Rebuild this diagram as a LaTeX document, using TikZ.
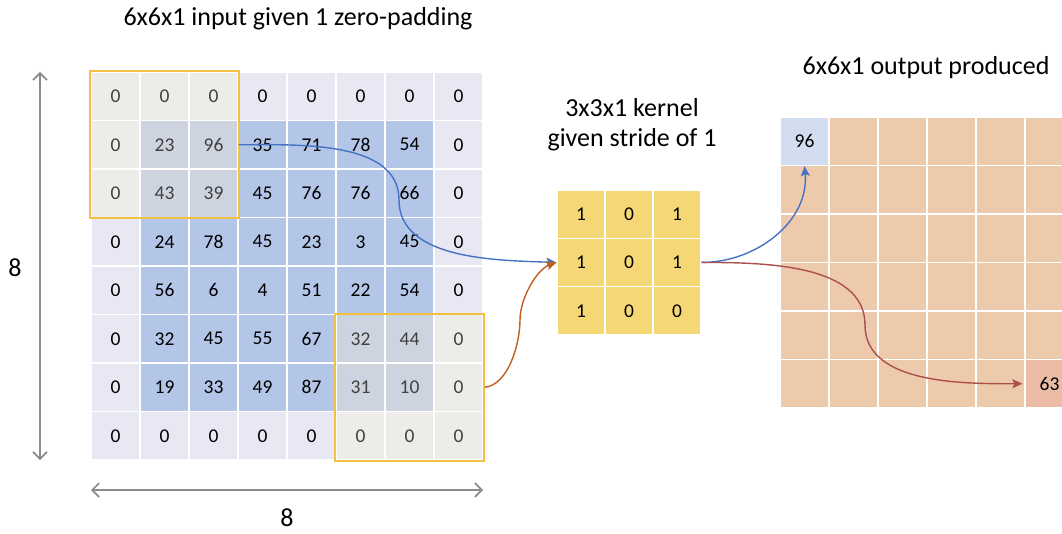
\documentclass[tikz,border=0pt]{standalone}
\usepackage{fontspec}
\setmainfont{Carlito}
\usetikzlibrary{positioning, fit, calc, arrows.meta}
\definecolor{padfill}{HTML}{E8E8F4}
\definecolor{infill}{HTML}{B4C6E7}
\definecolor{hipad}{HTML}{EDECE8}
\definecolor{hiin}{HTML}{CDD4DF}
\definecolor{kernfill}{HTML}{F5D776}
\definecolor{outfill}{HTML}{EECAAD}
\definecolor{firstout}{HTML}{D2DEF0}
\definecolor{lastout}{HTML}{EBBBA6}
\definecolor{hiline}{HTML}{F3C142}
\definecolor{bluearr}{HTML}{4472C4}
\definecolor{orangearr}{HTML}{C0601E}
\definecolor{redarr}{HTML}{A9504C}
\definecolor{dimgrey}{HTML}{8C8C8C}

\tikzset{
	incell/00/.style={fill=infill, text=black},
	incell/10/.style={fill=padfill, text=black},
	incell/01/.style={fill=hiin, text=black!75},
	incell/11/.style={fill=hipad, text=black!75},
}

\begin{document}
\begin{tikzpicture}[
			x=1pt, y=1pt,
			every node/.style={
					inner sep=0pt,
					font=\fontsize{19.5}{22}\selectfont
				},
			cell/.style={draw=white, line width=1.3pt, minimum width=49pt, minimum height=48.5pt},
			kcell/.style={cell, fill=kernfill, minimum width=48pt, minimum height=48.3pt},
			ocell/.style={cell, fill=outfill},
			hilbox/.style={draw=hiline, line width=2pt, inner sep=0pt},
			title/.style={font=\fontsize{26}{30}\selectfont, align=center},
			conn/.style={line width=1.4pt, -{Stealth[length=10pt, width=9pt, inset=2pt]}},
			dimline/.style={draw=dimgrey, line width=1.6pt, {Straight Barb[length=7pt, width=14pt]}-{Straight Barb[length=7pt, width=14pt]}}
		]
		\clip (0,0) rectangle (1062,533);

		% input with zero-padding
		\foreach \vals [count=\r from 0] in {
				{0,0,0,0,0,0,0,0},
				{0,23,96,35,71,78,54,0},
				{0,43,39,45,76,76,66,0},
				{0,24,78,45,23,3,45,0},
				{0,56,6,4,51,22,54,0},
				{0,32,45,55,67,32,44,0},
				{0,19,33,49,87,31,10,0},
				{0,0,0,0,0,0,0,0}} {
			\foreach \v [count=\c from 0] in \vals {
				\pgfmathtruncatemacro\pad{or(or(\r==0,\r==7),or(\c==0,\c==7))}
				\pgfmathtruncatemacro\hil{or(and(\r<3,\c<3),and(\r>4,\c>4))}
				\node[cell, incell/\pad\hil] (n-\r-\c) at (115.5+49*\c, 436.75-48.5*\r) {\v};
			}
		}

		\node[hilbox, fit=(n-0-0) (n-2-2)] (box) {};
		\node[hilbox, fit=(n-5-5) (n-7-7)] (box2) {};

		\node[title] (intitle) at (298,514) {6x6x1 input given 1 zero-padding};

		% size arrows
		\coordinate (vtop) at (40,461);
		\coordinate (vbot) at (40,73);
		\draw[dimline] (vtop) -- (vbot);
		\node[title] (vlabel) at (15,265) {8};
		\coordinate (hleft) at (91,43);
		\coordinate (hright) at (483,43);
		\draw[dimline] (hleft) -- (hright);
		\node[title] (hlabel) at (287,15) {8};

		% kernel
		\foreach \vals [count=\r from 0] in {{1,0,1},{1,0,1},{1,0,0}} {
			\foreach \v [count=\c from 0] in \vals {
				\node[kcell] (k-\r-\c) at (581+48*\c, 318.85-48.3*\r) {\v};
			}
		}
		\node[title] (ktitle) at (632,408) {3x3x1 kernel\\given stride of 1};

		% output
		\foreach \r in {0,...,5} {
			\foreach \c in {0,...,5} {
				\node[ocell] (o-\r-\c) at (804.5+49*\c, 391.75-48.5*\r) {};
			}
		}
		\node[cell, fill=firstout] (first) at (o-0-0) {96};
		\node[cell, fill=lastout] (last) at (o-5-5) {63};
		\node[title] (outtitle) at (926,465) {6x6x1 output produced};

		% connectors
		\coordinate (bendA) at (399,333);
		\coordinate (bendB) at (520,213);
		\coordinate (bendC) at (865,208);
		\draw[conn, bluearr] (n-1-2.east) to[out=0, in=90, looseness=0.9] (bendA) to[out=-90, in=178, looseness=0.9] (k-1-0.west);
		\draw[conn, orangearr] (box2.east |- n-6-7) to[out=5, in=-90, looseness=0.8] (bendB) to[out=90, in=200, looseness=0.8] (k-1-0.west);
		\draw[conn, bluearr] (k-1-2.east) to[out=0, in=-85, looseness=1] (first.south);
		\draw[conn, redarr] (k-1-2.east) to[out=0, in=90, looseness=0.9] (bendC) to[out=-90, in=180, looseness=0.9] ([xshift=-2pt]last.west);
	\end{tikzpicture}
\end{document}
